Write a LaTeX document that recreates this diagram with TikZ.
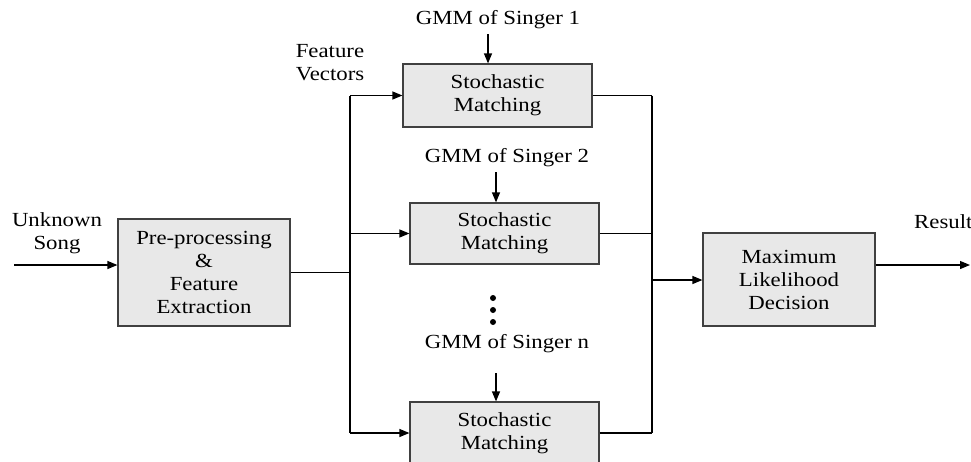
\documentclass[tikz,border=0pt]{standalone}
\usepackage{fontspec}
\setmainfont[FakeStretch=1.14]{Liberation Serif}
\usetikzlibrary{arrows.meta}
\tikzset{
  blk/.style={draw=black!75, fill=black!9, line width=1.2pt, align=center, inner sep=0pt},
  lbl/.style={align=center, inner sep=0pt},
  wire/.style={line width=1.2pt},
  arr/.style={line width=1.2pt, -{Triangle[length=10pt,width=8pt]}}
}
\begin{document}
\begin{tikzpicture}[x=1pt,y=-1pt,font=\fontsize{20}{23}\selectfont]
\useasboundingbox (0,0) rectangle (971,461);
\clip (0,0) rectangle (971,461);

% blocks
\node[blk, minimum width=172pt, minimum height=107pt] (pre) at (204,272.5) {Pre-processing\\\&\\Feature\\Extraction};
\node[blk, minimum width=189pt, minimum height=63pt] (sm1) at (497.5,95.5) {Stochastic\\Matching};
\node[blk, minimum width=189pt, minimum height=61pt] (sm2) at (504.5,233.5) {Stochastic\\Matching};
\node[blk, minimum width=189pt, minimum height=62pt] (smn) at (504.5,433) {Stochastic\\Matching};
\node[blk, minimum width=172pt, minimum height=93pt] (mld) at (789,279.5) {Maximum\\Likelihood\\Decision};

% labels
\node[lbl] (song) at (57,233) {Unknown\\Song};
\node[lbl] (fv) at (330,63) {Feature\\Vectors};
\node[lbl] (gmm1) at (498,20) {GMM of Singer 1};
\node[lbl] (gmm2) at (507,158) {GMM of Singer 2};
\node[lbl] (gmmn) at (507,344) {GMM of Singer n};
\node[lbl, anchor=west] (res) at (914,222) {Result};

\coordinate (in) at (14,265);
\coordinate (busL) at (350,272.5);
\coordinate (busR) at (652,280);
\coordinate (out) at (970,265);

% input side
\draw[arr] (in) -- (in -| pre.west);
\draw[wire] (pre.east) -- (busL);
\draw[wire] (busL |- sm1) -- (busL |- smn);
\draw[arr] (busL |- sm1) -- (sm1.west);
\draw[arr] (busL |- sm2) -- (sm2.west);
\draw[arr] (busL |- smn) -- (smn.west);

% models
\draw[arr] ([xshift=-10pt,yshift=-5pt]gmm1.south) -- ([xshift=-9.5pt]sm1.north);
\draw[arr] ([xshift=-11pt,yshift=-5pt]gmm2.south) -- ([xshift=-8.5pt]sm2.north);
\draw[arr] ([xshift=-11pt,yshift=-20pt]gmmn.south) -- ([xshift=-8.5pt]smn.north);
\foreach \yy in {298,310,322}
  \fill (493,\yy) circle (3pt);

% output side
\draw[wire] (sm1.east) -- (sm1.east -| busR);
\draw[wire] (sm2.east) -- (sm2.east -| busR);
\draw[wire] (smn.east) -- (smn.east -| busR);
\draw[wire] (busR |- sm1) -- (busR |- smn);
\draw[arr] (busR) -- (busR -| mld.west);
\draw[arr] (mld.east |- out) -- (out);
\end{tikzpicture}
\end{document}
